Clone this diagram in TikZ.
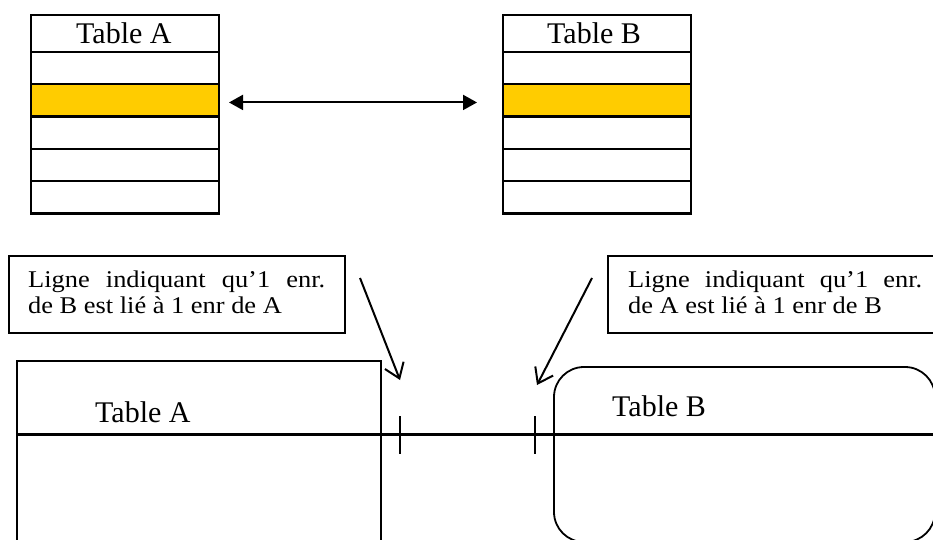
\documentclass[tikz,border=0pt]{standalone}
\usepackage{fontspec}
\setmainfont{Liberation Serif}
\newfontfamily\callfont[FakeStretch=1.1]{Liberation Serif}
\usetikzlibrary{arrows.meta}
\definecolor{rowyellow}{RGB}{255,204,0}
\begin{document}
\begin{tikzpicture}[x=1pt,y=-1pt,
  rowbox/.style={draw,line width=2.2pt,minimum width=188pt,minimum height=32.3pt,inner sep=0pt,outer sep=0pt,anchor=north west},
  hdrbox/.style={rowbox,minimum height=37pt},
  hlbox/.style={rowbox,fill=rowyellow},
  titletext/.style={font=\fontsize{30}{36}\selectfont,inner sep=0pt,anchor=base west},
  calloutbox/.style={draw,line width=2.4pt,anchor=north west,inner sep=0pt,minimum height=77pt},
  calltext/.style={font=\callfont\fontsize{24}{26}\selectfont,align=left,inner sep=0pt,anchor=base west},
  dblarrow/.style={line width=2pt,{Triangle[length=14pt,width=15pt]}-{Triangle[length=14pt,width=15pt]}},
  callarrow/.style={line width=2pt,-{Straight Barb[length=14pt,width=20pt]}},
  tickline/.style={line width=2pt},
  relline/.style={line width=3pt},
  bigbox/.style={draw,line width=1.8pt,anchor=north west,inner sep=0pt,outer sep=0pt}
]
\useasboundingbox (0,0) rectangle (933,540);
\clip (0,0) rectangle (933,540);
% ---- top tables
\node[hdrbox] (a0) at (31,15) {};
\node[rowbox] (a1) at (31,52) {};
\node[hlbox]  (a2) at (31,84.3) {};
\node[rowbox] (a3) at (31,116.6) {};
\node[rowbox] (a4) at (31,148.9) {};
\node[rowbox] (a5) at (31,181.2) {};
\node[titletext] (a0t) at (76,43.3) {Table A};
\node[hdrbox] (b0) at (503,15) {};
\node[rowbox] (b1) at (503,52) {};
\node[hlbox]  (b2) at (503,84.3) {};
\node[rowbox] (b3) at (503,116.6) {};
\node[rowbox] (b4) at (503,148.9) {};
\node[rowbox] (b5) at (503,181.2) {};
\node[titletext] (b0t) at (547,43.3) {Table B};
\draw[dblarrow,shorten <=10pt,shorten >=26pt] ([yshift=-2pt]a2.east) -- ([yshift=-2pt]b2.west);
% ---- callouts
\node[calloutbox,minimum width=336.5pt] (c1) at (7.5,255) {};
\node[calltext] (c1t) at (28,313.3) {\makebox[297pt][s]{Ligne indiquant qu’1 enr.}\\de B est lié à 1 enr de A};
\node[calloutbox,minimum width=340pt] (c2) at (607,255) {};
\node[calltext] (c2t) at (628,313.3) {\makebox[294pt][s]{Ligne indiquant qu’1 enr.}\\de A est lié à 1 enr de B};
% ---- bottom tables
\node[bigbox,minimum width=364pt,minimum height=200pt] (ta) at (17,361) {};
\node[titletext] (tat) at (95,422) {Table A};
\node[bigbox,rounded corners=30pt,minimum width=381pt,minimum height=175pt] (tb) at (554,367) {};
\node[titletext] (tbt) at (612,416) {Table B};
\coordinate (lineEnd) at (933,434);
\draw[relline] (ta.west |- lineEnd) -- (lineEnd);
% ---- ticks
\coordinate (tk1) at (400,434);
\coordinate (tk2) at (535,434);
\draw[tickline] ([yshift=18pt]tk1) -- ([yshift=-20pt]tk1);
\draw[tickline] ([yshift=18pt]tk2) -- ([yshift=-20pt]tk2);
% ---- callout arrows
\coordinate (ar1s) at (360,278);
\coordinate (ar1e) at (400,380);
\coordinate (ar2s) at (592,278);
\coordinate (ar2e) at (537,385);
\draw[callarrow] (ar1s) -- (ar1e);
\draw[callarrow] (ar2s) -- (ar2e);
\end{tikzpicture}
\end{document}
